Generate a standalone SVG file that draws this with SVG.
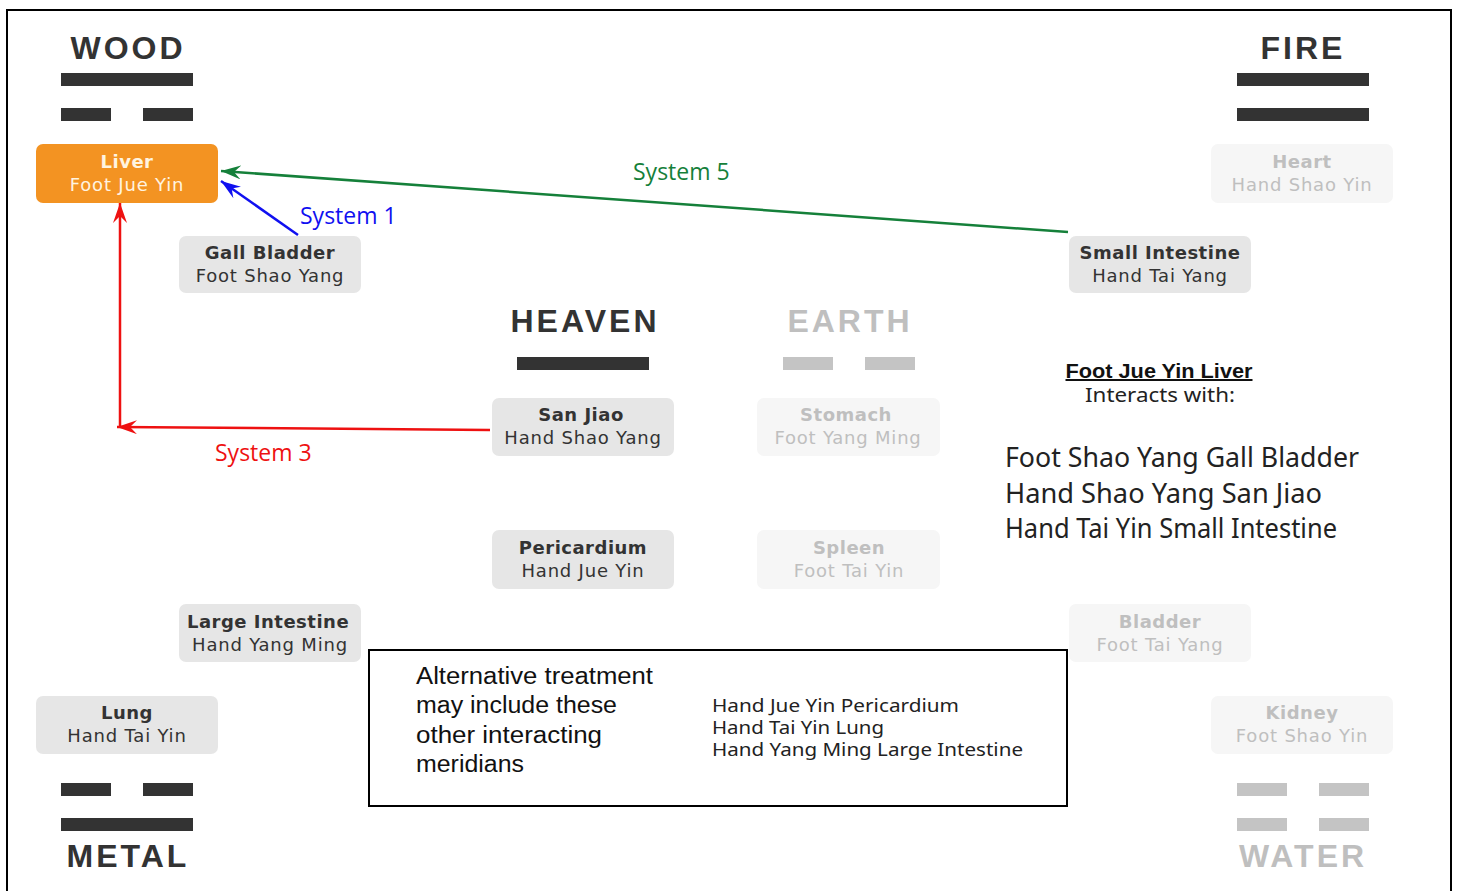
<svg xmlns="http://www.w3.org/2000/svg" width="1460" height="891" viewBox="0 0 1460 891">
<defs>
<style>
.title{font-family:"Liberation Sans",Arial,sans-serif;font-weight:bold;font-size:32px;letter-spacing:3px;text-anchor:middle}
.dark{fill:#333333}
.light{fill:#BFBFBF}
.bar{fill:#333333}
.lbar{fill:#C4C4C4}
.box{fill:#E6E6E6}
.lbox{fill:#F6F6F6}
.n1{font-family:"DejaVu Sans","Liberation Sans",sans-serif;font-size:18px;font-weight:bold;letter-spacing:0.5px;text-anchor:middle}
.n2{font-family:"DejaVu Sans","Liberation Sans",sans-serif;font-size:18px;letter-spacing:0.8px;text-anchor:middle}
.lab{font-family:"Open Sans","Noto Sans",sans-serif;font-size:23px}
.gothic{font-family:"Noto Sans","Liberation Sans",sans-serif;fill:#222}
</style>
<marker id="ag" viewBox="0 0 20 14" refX="20" refY="7" markerWidth="20" markerHeight="14" markerUnits="userSpaceOnUse" orient="auto"><path d="M20,7 L0,0 L7,7 L0,14 Z" fill="#15803A"/></marker>
<marker id="ab" viewBox="0 0 20 14" refX="20" refY="7" markerWidth="20" markerHeight="14" markerUnits="userSpaceOnUse" orient="auto"><path d="M20,7 L0,0 L7,7 L0,14 Z" fill="#1010F0"/></marker>
<marker id="ar" viewBox="0 0 20 14" refX="20" refY="7" markerWidth="20" markerHeight="14" markerUnits="userSpaceOnUse" orient="auto"><path d="M20,7 L0,0 L7,7 L0,14 Z" fill="#EE1111"/></marker>
</defs>
<rect x="0" y="0" width="1460" height="891" fill="#ffffff"/>
<path d="M7,900 L7,10 L1451,10 L1451,900" fill="none" stroke="#000" stroke-width="2"/>

<g id="wood">
<text class="title dark" x="128" y="59">WOOD</text>
<rect class="bar" x="61" y="73" width="132" height="13"/>
<rect class="bar" x="61" y="108" width="50" height="13"/>
<rect class="bar" x="143" y="108" width="50" height="13"/>
</g>
<g id="fire">
<text class="title dark" x="1303" y="59">FIRE</text>
<rect class="bar" x="1237" y="73" width="132" height="13"/>
<rect class="bar" x="1237" y="108" width="132" height="13"/>
</g>
<g id="heaven">
<text class="title dark" x="585" y="332">HEAVEN</text>
<rect class="bar" x="517" y="357" width="132" height="13"/>
</g>
<g id="earth">
<text class="title light" x="850" y="332">EARTH</text>
<rect class="lbar" x="783" y="357" width="50" height="13"/>
<rect class="lbar" x="865" y="357" width="50" height="13"/>
</g>
<g id="metal">
<rect class="bar" x="61" y="783" width="50" height="13"/>
<rect class="bar" x="143" y="783" width="50" height="13"/>
<rect class="bar" x="61" y="818" width="132" height="13"/>
<text class="title dark" x="128" y="867">METAL</text>
</g>
<g id="water">
<rect class="lbar" x="1237" y="783" width="50" height="13"/>
<rect class="lbar" x="1319" y="783" width="50" height="13"/>
<rect class="lbar" x="1237" y="818" width="50" height="13"/>
<rect class="lbar" x="1319" y="818" width="50" height="13"/>
<text class="title light" x="1303" y="867">WATER</text>
</g>

<g id="liver">
<rect x="36" y="144" width="182" height="59" rx="7" fill="#F39322"/>
<text class="n1" x="127" y="168" fill="#FFF4E0">Liver</text>
<text class="n2" x="127" y="191" fill="#FFF4E0">Foot Jue Yin</text>
</g>
<g id="gall-bladder">
<rect class="box" x="179" y="236" width="182" height="57" rx="7"/>
<text class="n1 dark" x="270" y="259">Gall Bladder</text>
<text class="n2 dark" x="270" y="282">Foot Shao Yang</text>
</g>
<g id="heart">
<rect class="lbox" x="1211" y="144" width="182" height="59" rx="7"/>
<text class="n1 light" x="1302" y="168">Heart</text>
<text class="n2 light" x="1302" y="191">Hand Shao Yin</text>
</g>
<g id="small-intestine">
<rect class="box" x="1069" y="236" width="182" height="57" rx="7"/>
<text class="n1 dark" x="1160" y="259">Small Intestine</text>
<text class="n2 dark" x="1160" y="282">Hand Tai Yang</text>
</g>
<g id="san-jiao">
<rect class="box" x="492" y="398" width="182" height="58" rx="7"/>
<text class="n1 dark" x="581" y="421">San Jiao</text>
<text class="n2 dark" x="583" y="444">Hand Shao Yang</text>
</g>
<g id="stomach">
<rect class="lbox" x="757" y="398" width="183" height="58" rx="7"/>
<text class="n1 light" x="846" y="421">Stomach</text>
<text class="n2 light" x="848" y="444">Foot Yang Ming</text>
</g>
<g id="pericardium">
<rect class="box" x="492" y="530" width="182" height="59" rx="7"/>
<text class="n1 dark" x="583" y="554">Pericardium</text>
<text class="n2 dark" x="583" y="577">Hand Jue Yin</text>
</g>
<g id="spleen">
<rect class="lbox" x="757" y="530" width="183" height="59" rx="7"/>
<text class="n1 light" x="849" y="554">Spleen</text>
<text class="n2 light" x="849" y="577">Foot Tai Yin</text>
</g>
<g id="large-intestine">
<rect class="box" x="179" y="604" width="182" height="58" rx="7"/>
<text class="n1 dark" x="268" y="628">Large Intestine</text>
<text class="n2 dark" x="270" y="651">Hand Yang Ming</text>
</g>
<g id="bladder">
<rect class="lbox" x="1069" y="604" width="182" height="58" rx="7"/>
<text class="n1 light" x="1160" y="628">Bladder</text>
<text class="n2 light" x="1160" y="651">Foot Tai Yang</text>
</g>
<g id="lung">
<rect class="box" x="36" y="696" width="182" height="58" rx="7"/>
<text class="n1 dark" x="127" y="719">Lung</text>
<text class="n2 dark" x="127" y="742">Hand Tai Yin</text>
</g>
<g id="kidney">
<rect class="lbox" x="1211" y="696" width="182" height="58" rx="7"/>
<text class="n1 light" x="1302" y="719">Kidney</text>
<text class="n2 light" x="1302" y="742">Foot Shao Yin</text>
</g>

<g id="connectors" fill="none" stroke-width="2.5">
<line x1="1068" y1="232" x2="221" y2="171" stroke="#15803A" marker-end="url(#ag)"/>
<line x1="298" y1="235" x2="221" y2="181" stroke="#1010F0" marker-end="url(#ab)"/>
<line x1="490" y1="430" x2="117" y2="427" stroke="#EE1111" marker-end="url(#ar)"/>
<line x1="120" y1="427" x2="120" y2="203" stroke="#EE1111" marker-end="url(#ar)"/>
<text class="lab" x="633" y="180" fill="#15803A" stroke="none">System 5</text>
<text class="lab" x="300" y="224" fill="#1010F0" stroke="none">System 1</text>
<text class="lab" x="215" y="461" fill="#EE1111" stroke="none">System 3</text>
</g>

<g id="info">
<text x="1159" y="378" text-anchor="middle" font-family="Liberation Sans, sans-serif" font-weight="bold" font-size="20" fill="#111" text-decoration="underline" textLength="187" lengthAdjust="spacingAndGlyphs">Foot Jue Yin Liver</text>
<text x="1160" y="402" text-anchor="middle" class="gothic" font-size="19" textLength="150" lengthAdjust="spacingAndGlyphs">Interacts with:</text>
<text x="1005" y="467" class="gothic" font-size="28" textLength="354" lengthAdjust="spacingAndGlyphs">Foot Shao Yang Gall Bladder</text>
<text x="1005" y="503" class="gothic" font-size="28" textLength="317" lengthAdjust="spacingAndGlyphs">Hand Shao Yang San Jiao</text>
<text x="1005" y="538" class="gothic" font-size="28" textLength="332" lengthAdjust="spacingAndGlyphs">Hand Tai Yin Small Intestine</text>
</g>

<g id="alt-box">
<rect x="369" y="650" width="698" height="156" fill="none" stroke="#000" stroke-width="2"/>
<text x="416" y="684" font-family="Liberation Sans, sans-serif" font-size="23" fill="#111" textLength="237" lengthAdjust="spacingAndGlyphs">Alternative treatment</text>
<text x="416" y="713" font-family="Liberation Sans, sans-serif" font-size="23" fill="#111" textLength="201" lengthAdjust="spacingAndGlyphs">may include these</text>
<text x="416" y="743" font-family="Liberation Sans, sans-serif" font-size="23" fill="#111" textLength="186" lengthAdjust="spacingAndGlyphs">other interacting</text>
<text x="416" y="772" font-family="Liberation Sans, sans-serif" font-size="23" fill="#111" textLength="108" lengthAdjust="spacingAndGlyphs">meridians</text>
<text x="712" y="712" class="gothic" font-size="18" fill="#333" textLength="247" lengthAdjust="spacingAndGlyphs">Hand Jue Yin Pericardium</text>
<text x="712" y="734" class="gothic" font-size="18" fill="#333" textLength="172" lengthAdjust="spacingAndGlyphs">Hand Tai Yin Lung</text>
<text x="712" y="756" class="gothic" font-size="18" fill="#333" textLength="311" lengthAdjust="spacingAndGlyphs">Hand Yang Ming Large Intestine</text>
</g>
</svg>
